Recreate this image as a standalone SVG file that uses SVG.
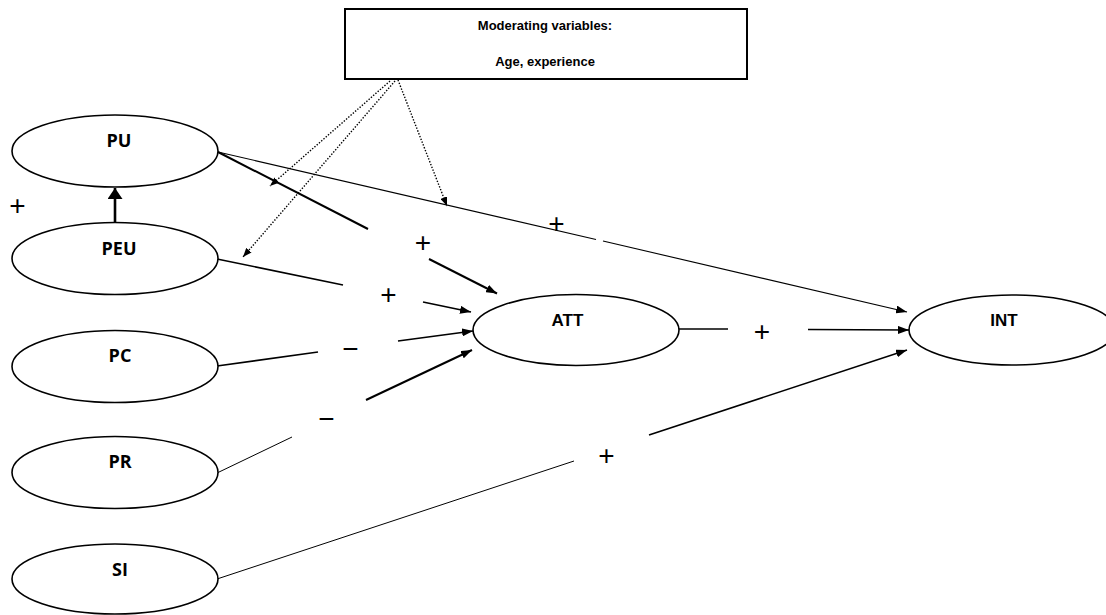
<svg xmlns="http://www.w3.org/2000/svg" width="1106" height="615" viewBox="0 0 1106 615">
<style>
.node ellipse{fill:#fff;stroke:#000;stroke-width:1.6}
.lbl{font-family:"Open Sans","Liberation Sans",sans-serif;font-weight:bold;font-size:18px;text-anchor:middle;fill:#000}
.lbl2{font-family:"Liberation Sans",Arial,sans-serif;font-weight:bold;font-size:17px;text-anchor:middle;fill:#000}
.box{font-family:"Liberation Sans",Arial,sans-serif;font-weight:bold;font-size:13px;text-anchor:middle;fill:#000}
.sign{font-family:"Liberation Sans",Arial,sans-serif;font-size:28px;text-anchor:middle;fill:#000}
.ln{fill:none;stroke:#000}
.dot{fill:none;stroke:#000;stroke-width:1.4;stroke-dasharray:1.4 1.6}
</style>
<defs>
<marker id="ah" markerUnits="userSpaceOnUse" markerWidth="11" markerHeight="8" refX="11" refY="4" orient="auto"><path d="M0,0 L11,4 L0,8 z" fill="#000"/></marker>
<marker id="ahs" markerUnits="userSpaceOnUse" markerWidth="9" markerHeight="7" refX="9" refY="3.5" orient="auto"><path d="M0,0 L9,3.5 L0,7 z" fill="#000"/></marker>
<marker id="ahb" markerUnits="userSpaceOnUse" markerWidth="11" markerHeight="15" refX="11" refY="7.5" orient="auto"><path d="M0,0 L11,7.5 L0,15 z" fill="#000"/></marker>
</defs>
<rect width="1106" height="615" fill="#fff"/>

<g id="moderators">
<rect x="345" y="9" width="402" height="70" fill="#fff" stroke="#000" stroke-width="2"/>
<text class="box" x="545" y="29.5">Moderating variables:</text>
<text class="box" x="545" y="66">Age, experience</text>
</g>

<g id="connectors">
<!-- PEU -> PU -->
<line class="ln" x1="115" y1="223" x2="115" y2="188" stroke-width="2.6" marker-end="url(#ahb)"/>
<!-- PU -> ATT -->
<line class="ln" x1="218" y1="152" x2="368" y2="229" stroke-width="2"/>
<line class="ln" x1="429" y1="259" x2="497" y2="293.5" stroke-width="2" marker-end="url(#ah)"/>
<!-- PU -> INT -->
<line class="ln" x1="218" y1="152" x2="596" y2="239.5" stroke-width="1.1"/>
<line class="ln" x1="603" y1="241" x2="907" y2="312" stroke-width="1.1" marker-end="url(#ah)"/>
<!-- PEU -> ATT -->
<line class="ln" x1="217" y1="259" x2="343" y2="285" stroke-width="1.6"/>
<line class="ln" x1="423" y1="302" x2="471" y2="312" stroke-width="1.6" marker-end="url(#ah)"/>
<!-- PC -> ATT -->
<line class="ln" x1="217" y1="366" x2="318" y2="352" stroke-width="1.6"/>
<line class="ln" x1="398" y1="341" x2="473" y2="331" stroke-width="1.6" marker-end="url(#ah)"/>
<!-- PR -> ATT -->
<line class="ln" x1="217" y1="473" x2="292" y2="437" stroke-width="1"/>
<line class="ln" x1="366" y1="400" x2="472" y2="350" stroke-width="2" marker-end="url(#ah)"/>
<!-- ATT -> INT -->
<line class="ln" x1="679" y1="329" x2="728" y2="329" stroke-width="1.6"/>
<line class="ln" x1="808" y1="329.5" x2="909" y2="330" stroke-width="1.6" marker-end="url(#ah)"/>
<!-- SI -> INT -->
<line class="ln" x1="217" y1="579" x2="574" y2="461" stroke-width="1"/>
<line class="ln" x1="649" y1="435" x2="907" y2="350" stroke-width="1.6" marker-end="url(#ah)"/>
<!-- moderator dotted arrows -->
<line class="dot" x1="390" y1="81" x2="270" y2="186" marker-end="url(#ahs)"/>
<line class="dot" x1="395" y1="81" x2="243" y2="257" marker-end="url(#ahs)"/>
<line class="dot" x1="398" y1="80" x2="447" y2="206" marker-end="url(#ahs)"/>
</g>

<g id="signs">
<text class="sign" x="17.5" y="214.9">+</text>
<text class="sign" x="423" y="252.4">+</text>
<text class="sign" x="388.5" y="303.9">+</text>
<text class="sign" x="556.5" y="232.9">+</text>
<text class="sign" x="762" y="340.9">+</text>
<text class="sign" x="606.5" y="465.4">+</text>
<text class="sign" x="350.5" y="357.9">−</text>
<text class="sign" x="326.5" y="427.9">−</text>
</g>

<g id="PU" class="node"><ellipse cx="115" cy="151" rx="103" ry="36"/><text class="lbl" x="119" y="147">PU</text></g>
<g id="PEU" class="node"><ellipse cx="115" cy="258.5" rx="103" ry="36"/><text class="lbl" x="119" y="255">PEU</text></g>
<g id="PC" class="node"><ellipse cx="115" cy="366.5" rx="103" ry="36"/><text class="lbl" x="120" y="362">PC</text></g>
<g id="PR" class="node"><ellipse cx="115" cy="472.5" rx="103" ry="36"/><text class="lbl" x="120" y="468">PR</text></g>
<g id="SI" class="node"><ellipse cx="115" cy="579" rx="103" ry="35"/><text class="lbl" x="120" y="576">SI</text></g>
<g id="ATT" class="node"><ellipse cx="576" cy="330" rx="103" ry="35.5"/><text class="lbl2" x="567.5" y="326">ATT</text></g>
<g id="INT" class="node"><ellipse cx="1012" cy="330" rx="103" ry="35"/><text class="lbl2" x="1004" y="326">INT</text></g>
</svg>
